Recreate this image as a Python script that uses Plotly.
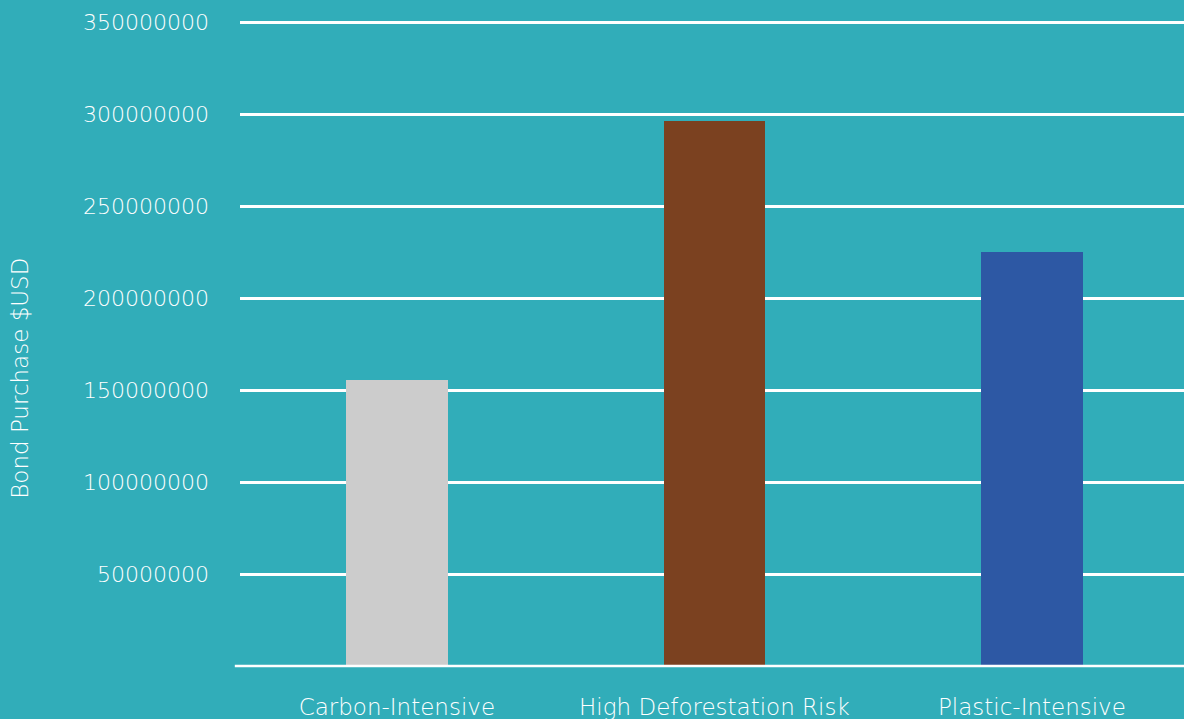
import plotly.graph_objects as go

# Bond purchases by sector category (USD)
categories = ["Carbon-Intensive", "High Deforestation Risk", "Plastic-Intensive"]
bond_purchase_usd = [155_500_000, 296_500_000, 225_500_000]
bar_colors = ["#CCCCCC", "#7B4120", "#2D58A4"]
tick_values = [50_000_000, 100_000_000, 150_000_000, 200_000_000,
               250_000_000, 300_000_000, 350_000_000]
tick_labels = [str(v) for v in tick_values]

BG = "#31ADB9"
TEXT = "#FFFFFF"
FONT = "'DejaVu Sans', Lato, sans-serif"
WEIGHT = 300
SIZE = 22

fig = go.Figure(
    go.Bar(
        x=categories,
        y=bond_purchase_usd,
        marker=dict(color=bar_colors, line=dict(width=0)),
        width=0.32,
        hoverinfo="x+y",
    )
)

fig.update_layout(
    width=1184,
    height=719,
    paper_bgcolor=BG,
    plot_bgcolor=BG,
    margin=dict(l=240, r=0, t=19, b=53),
    font=dict(family=FONT, size=SIZE, color=TEXT, weight=WEIGHT),
    showlegend=False,
    bargap=0,
    shapes=[
        # baseline along the bottom of the plot, running slightly past the grid's left edge
        dict(type="line", xref="paper", yref="paper", x0=-0.0055, x1=1,
             y0=0, y1=0, line=dict(color="#FFFFFF", width=2.5), layer="above"),
    ],
    annotations=[
        dict(
            text="Bond Purchase $USD",
            textangle=-90,
            xref="paper", yref="paper",
            x=0, y=0.444,
            xanchor="center", yanchor="middle",
            xshift=-220,
            showarrow=False,
            font=dict(family=FONT, size=23, color=TEXT, weight=WEIGHT),
        )
    ],
)

fig.update_xaxes(
    automargin=False,
    range=[-0.494, 2.479],
    showgrid=False,
    showline=False,
    zeroline=False,
    ticks="",
    ticklabelstandoff=25,
    tickfont=dict(family=FONT, size=23, color=TEXT, weight=WEIGHT),
)

fig.update_yaxes(
    automargin=False,
    range=[0, 352_000_000],
    tickmode="array",
    tickvals=tick_values,
    ticktext=tick_labels,
    showgrid=True,
    gridcolor="#FFFFFF",
    gridwidth=2.5,
    zeroline=False,
    showline=False,
    ticks="",
    ticklabelstandoff=30,
    tickfont=dict(family=FONT, size=SIZE, color=TEXT, weight=WEIGHT),
)

fig.write_html("out.html")
